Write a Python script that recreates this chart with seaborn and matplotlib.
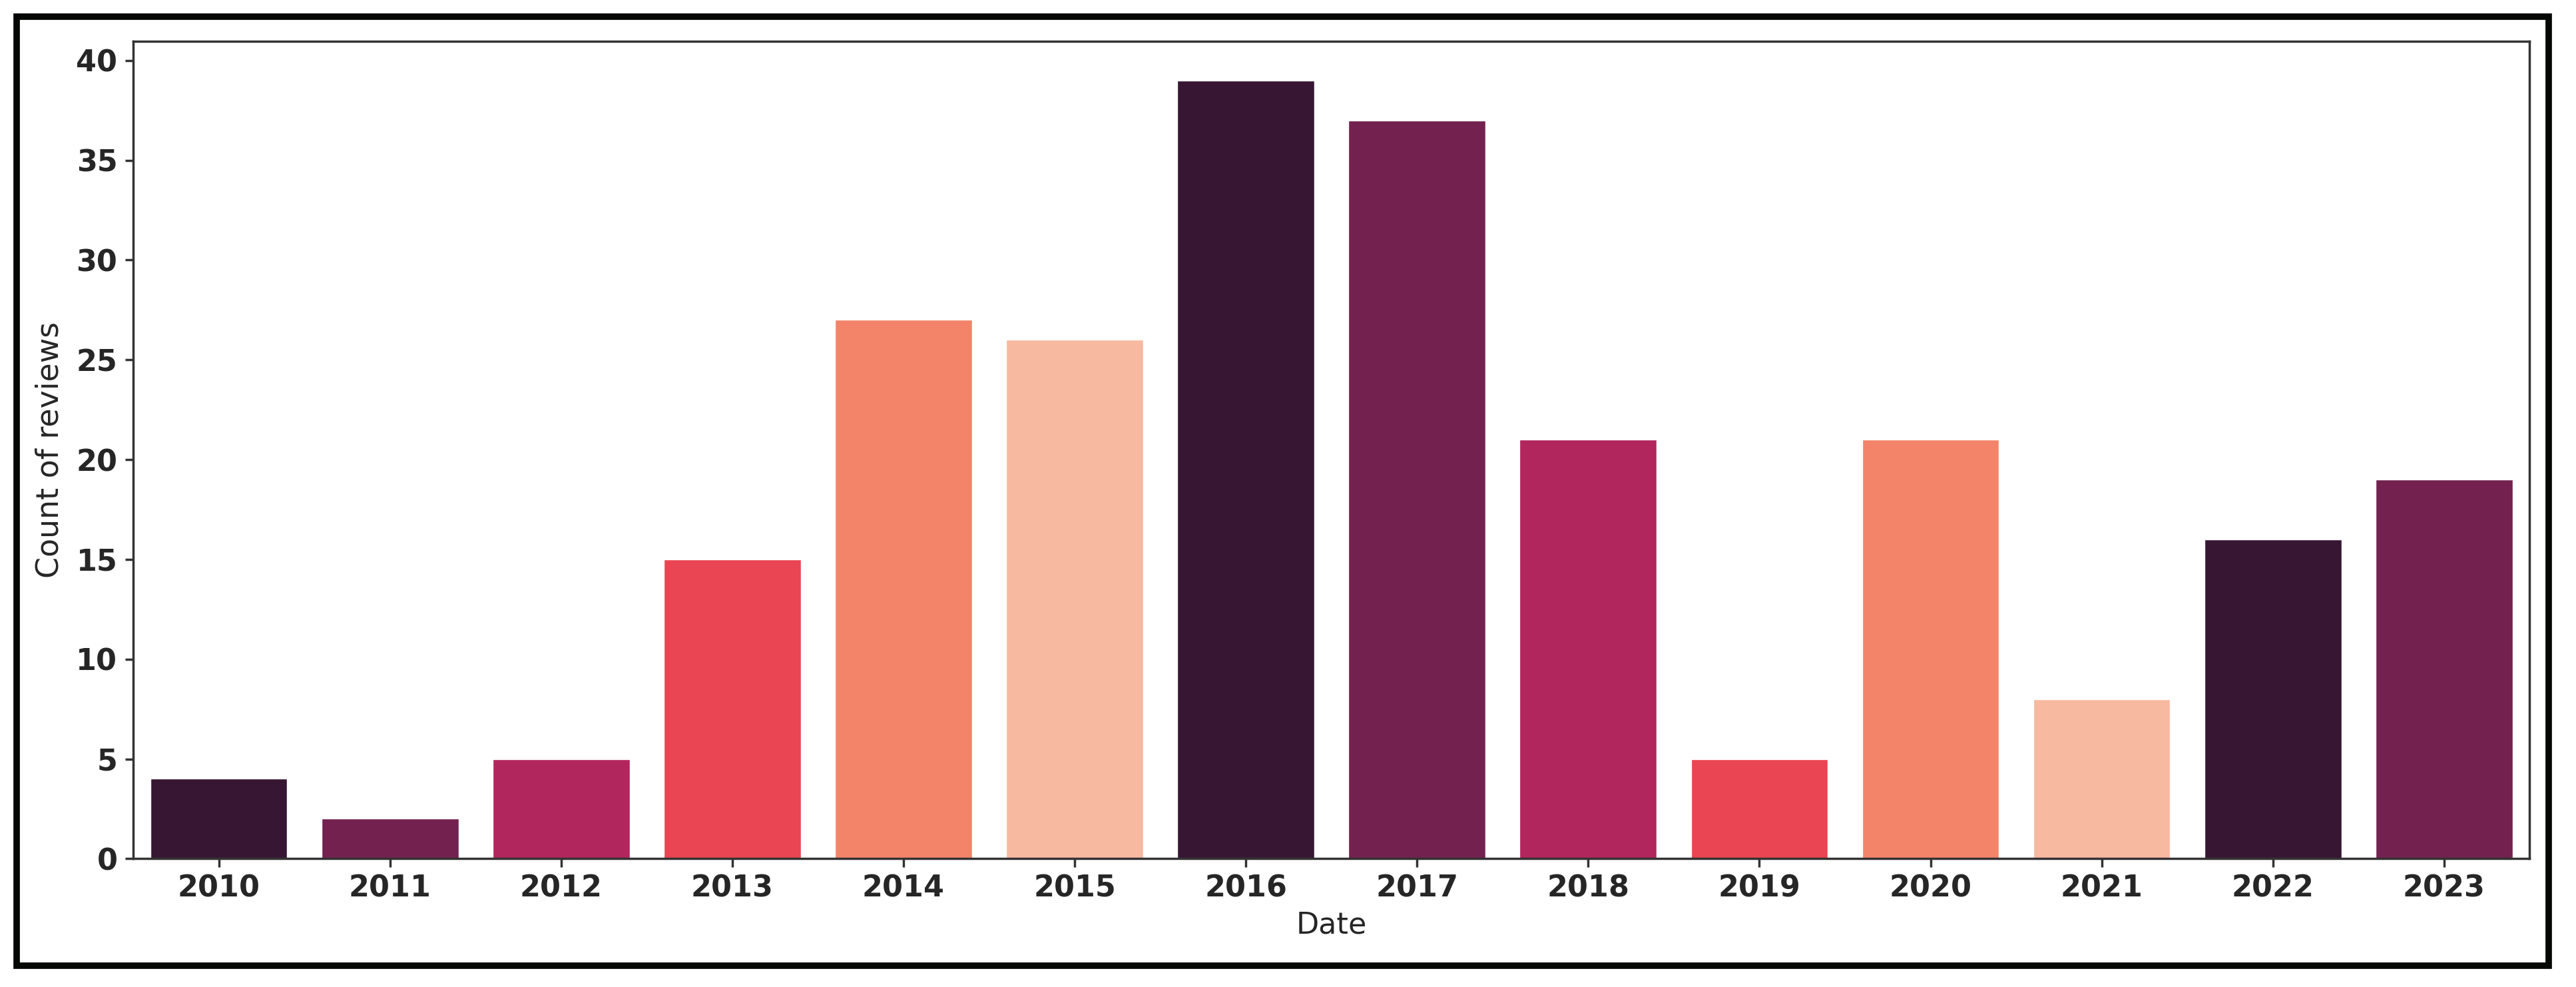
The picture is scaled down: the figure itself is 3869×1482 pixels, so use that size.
import numpy as np
import pandas as pd
import seaborn as sns
import matplotlib.pyplot as plt
from matplotlib.patches import Rectangle

# data
years = ["2010", "2011", "2012", "2013", "2014", "2015", "2016",
         "2017", "2018", "2019", "2020", "2021", "2022", "2023"]
counts = [4, 2, 5, 15, 27, 26, 39, 37, 21, 5, 21, 8, 16, 19]

# six rocket-like colours, repeated along the years
rocket6 = ["#371634", "#73224f", "#b1265c", "#e94552", "#f3846a", "#f7b9a0"]
bar_colors = [rocket6[i % 6] for i in range(len(years))]

df = pd.DataFrame({"Date": years, "Count of reviews": counts})

sns.set_style("white")
plt.rcParams["font.family"] = ["DejaVu Sans"]

fig = plt.figure(figsize=(38.69, 14.82), dpi=100)
ax = fig.add_axes([0.0517, 0.130, 0.9303, 0.828])

sns.barplot(data=df, x="Date", y="Count of reviews", hue="Date",
            palette=bar_colors, saturation=1, legend=False, ax=ax)

for s in ax.spines.values():
    s.set_linewidth(2.5)
    s.set_color("#333333")
ax.tick_params(axis="both", bottom=True, left=True, length=9, width=2.5,
               color="#333333", labelsize=32, pad=8)
for lab in ax.get_xticklabels() + ax.get_yticklabels():
    lab.set_fontweight("bold")
ax.set_yticks([0, 5, 10, 15, 20, 25, 30, 35, 40])
ax.set_xlabel("Date", fontsize=32, labelpad=8)
ax.set_ylabel("Count of reviews", fontsize=33, labelpad=12)

# thick black frame round the whole picture
fig.patches.append(Rectangle((25 / 3869, 1 - 1450 / 1482), 3803 / 3869, 1425 / 1482,
                             transform=fig.transFigure, fill=False,
                             edgecolor="#050705", linewidth=7))

fig.savefig("out.png", dpi=100)
